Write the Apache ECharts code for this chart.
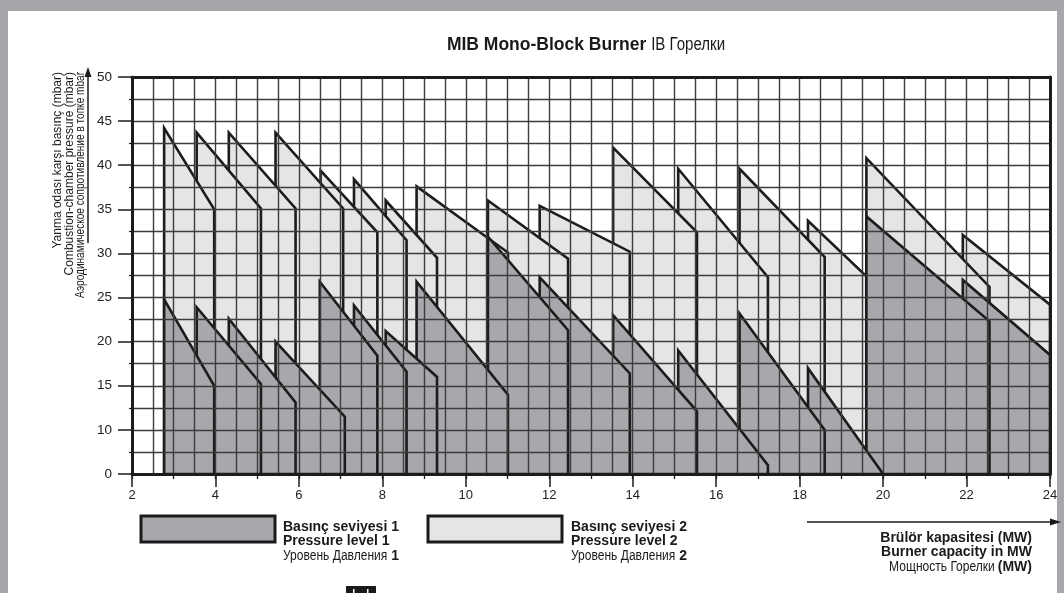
<!DOCTYPE html>
<html><head><meta charset="utf-8">
<script src="https://cdn.jsdelivr.net/npm/echarts@6.0.0/dist/echarts.min.js"></script>
<style>
html,body{margin:0;padding:0;background:#a6a7ab;width:1064px;height:593px;overflow:hidden;}
#panel{position:absolute;left:8px;top:11px;width:1049px;height:582px;background:#fff;}
#c{position:absolute;left:0;top:0;width:1064px;height:593px;}
</style>
</head><body><div id="panel"></div><div id="c"></div>
<script>
// x: burner capacity (MW); y: combustion-chamber pressure (mbar)
const xTickValues = [2, 4, 6, 8, 10, 12, 14, 16, 18, 20, 22, 24];
const yTickValues = [0, 10, 15, 20, 25, 30, 35, 40, 45, 50];
// each burner: [capacity from (MW), pressure at start (mbar), capacity to (MW), pressure at end (mbar)]
const pressureLevel2 = [
  [2.77, 44.2, 3.97, 35.0],
  [3.55, 43.7, 5.09, 35.1],
  [4.32, 43.7, 5.92, 35.1],
  [5.44, 43.7, 7.06, 35.1],
  [6.52, 39.4, 7.88, 32.4],
  [7.32, 38.4, 8.58, 31.5],
  [8.08, 36.0, 9.31, 29.5],
  [8.82, 37.6, 11.01, 30.1],
  [10.53, 36.0, 12.45, 29.4],
  [11.77, 35.4, 13.93, 30.2],
  [13.53, 42.0, 15.54, 32.4],
  [15.09, 39.6, 17.24, 27.3],
  [16.56, 39.6, 18.6, 29.6],
  [18.2, 33.7, 19.6, 27.4],
  [19.6, 40.8, 22.55, 26.2],
  [21.91, 32.1, 24.0, 24.2]
];
const pressureLevel1 = [
  [2.77, 24.8, 3.97, 15.0],
  [3.55, 23.9, 5.09, 15.2],
  [4.32, 22.6, 5.92, 13.1],
  [5.44, 20.0, 7.1, 11.5],
  [6.5, 26.8, 7.88, 18.4],
  [7.32, 24.1, 8.58, 16.6],
  [8.08, 21.2, 9.31, 16.0],
  [8.82, 26.8, 11.01, 14.0],
  [10.53, 31.9, 12.45, 21.3],
  [11.77, 27.3, 13.93, 16.4],
  [13.53, 23.0, 15.54, 12.1],
  [15.09, 19.0, 17.24, 2.0],
  [16.56, 23.2, 18.6, 10.0],
  [18.2, 17.0, 20.0, 0],
  [19.6, 34.2, 22.55, 22.3],
  [21.91, 27.0, 24.0, 18.5]
];

// the printed pressure axis is broken: 0..10 mbar occupies one 5-mbar step
function toAxis(v){ return v < 10 ? 5 + v / 2 : v; }
function fromAxis(a){ return a < 10 ? Math.round((a - 5) * 2) : a; }

const FILL1 = '#a7a8ac', FILL2 = '#e4e5e7', INK = '#1c1c1c', GRIDC = '#3c3c3c', TXT = '#1a1a1a';
const SANS = "'Liberation Sans', Arial, Helvetica, sans-serif";
const NARROW_SCALE = 0.86;

const mctx = document.createElement('canvas').getContext('2d');
function tw(font, text){ mctx.font = font; return mctx.measureText(text).width; }
function f(size, bold){ return (bold ? 'bold ' : '') + size + 'px ' + SANS; }

// a text piece; narrow pieces are drawn condensed
function piece(x, y, text, size, bold, narrow, align){
  return { type: 'text', x: x, y: y, z: 10, scaleX: narrow ? NARROW_SCALE : 1,
    style: { text: text, font: f(size, bold), fill: TXT, align: align || 'left', verticalAlign: 'middle' } };
}
function pieceWidth(text, size, bold, narrow){ return tw(f(size, bold), text) * (narrow ? NARROW_SCALE : 1); }

function polygons(name, rows, fill, z){
  return {
    type: 'custom', name: name, coordinateSystem: 'cartesian2d', xAxisIndex: 0, yAxisIndex: 0,
    data: rows.map(r => [r[0], toAxis(r[1]), r[2], toAxis(r[3])]).reverse(),
    encode: { x: [0, 2], y: [1, 3] },
    z: z, silent: true, animation: false,
    renderItem: function(params, api){
      const base = toAxis(0);
      const pts = [
        api.coord([api.value(0), base]),
        api.coord([api.value(0), api.value(1)]),
        api.coord([api.value(2), api.value(3)]),
        api.coord([api.value(2), base])
      ];
      return { type: 'polygon', shape: { points: pts },
        style: { fill: fill, stroke: INK, lineWidth: 2.6, lineJoin: 'miter' } };
    }
  };
}

const graphics = [];
// title
(function(){
  const a = 'MIB Mono-Block Burner', b = 'IB Горелки', size = 17.5;
  const wa = pieceWidth(a, size, true, false), gap = 5, wb = pieceWidth(b, size, false, true);
  const x0 = 586 - (wa + gap + wb) / 2;
  graphics.push(piece(x0, 45, a, size, true, false));
  graphics.push(piece(x0 + wa + gap, 45, b, size, false, true));
})();
// y axis title (rotated) + arrow
[[58, 'Yanma odası karşı basınç (mbar)', false], [70, 'Combustion-chamber pressure (mbar)', false],
 [81, 'Аэродинамическое сопротивление в топке mbar', true]].forEach(function(d){
  graphics.push({ type: 'text', x: d[0], y: 72, rotation: Math.PI / 2, z: 10, scaleX: d[2] ? 0.84 : 1,
    style: { text: d[1], align: 'right', verticalAlign: 'middle', font: f(12, false), fill: TXT } });
});
graphics.push({ type: 'line', z: 10, shape: { x1: 88, y1: 243, x2: 88, y2: 74 }, style: { stroke: TXT, lineWidth: 1.5 } });
graphics.push({ type: 'polygon', z: 10, shape: { points: [[88, 67], [84.5, 77], [91.5, 77]] }, style: { fill: TXT } });
// x axis title + arrow
graphics.push({ type: 'line', z: 10, shape: { x1: 807, y1: 522, x2: 1052, y2: 522 }, style: { stroke: TXT, lineWidth: 1.5 } });
graphics.push({ type: 'polygon', z: 10, shape: { points: [[1061, 522], [1050, 518.5], [1050, 525.5]] }, style: { fill: TXT } });
graphics.push(piece(1032, 538, 'Brülör kapasitesi (MW)', 14, true, false, 'right'));
graphics.push(piece(1032, 552, 'Burner capacity in MW', 14, true, false, 'right'));
(function(){
  const wb = pieceWidth('(MW)', 14, true, false);
  graphics.push(piece(1032, 567, '(MW)', 14, true, false, 'right'));
  graphics.push(piece(1032 - wb - 3, 567, 'Мощность Горелки', 14, false, true, 'right'));
})();
// legends
function legend(rx, tx, fill, n){
  graphics.push({ type: 'rect', z: 10, shape: { x: rx, y: 516, width: 134, height: 26 },
    style: { fill: fill, stroke: TXT, lineWidth: 3 } });
  graphics.push(piece(tx, 527, 'Basınç seviyesi ' + n, 14, true, false));
  graphics.push(piece(tx, 541.5, 'Pressure level ' + n, 14, true, false));
  const w = pieceWidth('Уровень Давления', 14, false, true);
  graphics.push(piece(tx, 556, 'Уровень Давления', 14, false, true));
  graphics.push(piece(tx + w + 4, 556, String(n), 14, true, false));
}
legend(141, 283, FILL1, 1);
legend(428, 571, FILL2, 2);
// small tab at the bottom edge
graphics.push({ type: 'rect', z: 10, shape: { x: 346, y: 586, width: 30, height: 8 }, style: { fill: TXT } });
graphics.push({ type: 'rect', z: 11, shape: { x: 353, y: 589, width: 1.5, height: 4 }, style: { fill: '#fff' } });
graphics.push({ type: 'rect', z: 11, shape: { x: 367, y: 589, width: 1.5, height: 4 }, style: { fill: '#fff' } });

const chart = echarts.init(document.getElementById('c'), null, { renderer: 'canvas' });
const hidden = { show: false };
chart.setOption({
  backgroundColor: 'transparent',
  animation: false,
  textStyle: { fontFamily: SANS },
  grid: { left: 132, right: 14, top: 77, bottom: 119, containLabel: false, outerBoundsMode: 'none' },
  xAxis: [
    { type: 'value', min: xTickValues[0], max: xTickValues[xTickValues.length - 1], interval: 2, z: 5,
      axisLine: { show: true, lineStyle: { color: INK, width: 3 } },
      axisTick: { show: true, length: 13, lineStyle: { color: INK, width: 1.5 } },
      axisLabel: { show: true, margin: 15, color: '#222', fontSize: 13, fontFamily: SANS,
        formatter: v => xTickValues.indexOf(v) >= 0 ? String(v) : '' },
      splitLine: { show: true, lineStyle: { color: GRIDC, width: 1.4 } },
      minorTick: { show: false, splitNumber: 4 },
      minorSplitLine: { show: true, lineStyle: { color: GRIDC, width: 1.4 } } },
    { type: 'value', position: 'bottom', min: 2, max: 24, interval: 1, z: 5,
      axisLine: hidden, axisLabel: hidden, splitLine: hidden,
      axisTick: { show: true, length: 5, lineStyle: { color: INK, width: 1.3 } } },
    { type: 'value', position: 'top', min: 2, max: 24, interval: 2, z: 6,
      axisLine: { show: true, lineStyle: { color: INK, width: 3 } },
      axisTick: hidden, axisLabel: hidden, splitLine: hidden }
  ],
  yAxis: [
    { type: 'value', min: toAxis(yTickValues[0]), max: toAxis(yTickValues[yTickValues.length - 1]), interval: 5, z: 5,
      axisLine: { show: true, lineStyle: { color: INK, width: 3 } },
      axisTick: { show: true, length: 14, lineStyle: { color: INK, width: 1.5 } },
      axisLabel: { show: true, margin: 20, color: '#222', fontSize: 13.5, fontFamily: SANS,
        formatter: v => { const t = fromAxis(v); return yTickValues.indexOf(t) >= 0 ? String(t) : ''; } },
      splitLine: { show: true, lineStyle: { color: GRIDC, width: 1.4 } },
      minorTick: { show: true, splitNumber: 2, length: 3, lineStyle: { color: INK, width: 1.2 } },
      minorSplitLine: { show: true, lineStyle: { color: GRIDC, width: 1.4 } } },
    { type: 'value', position: 'right', min: 5, max: 50, interval: 5, z: 6,
      axisLine: { show: true, lineStyle: { color: INK, width: 3 } },
      axisTick: hidden, axisLabel: hidden, splitLine: hidden }
  ],
  series: [
    polygons('Pressure level 2', pressureLevel2, FILL2, 1),
    polygons('Pressure level 1', pressureLevel1, FILL1, 2)
  ],
  graphic: graphics
});
</script>
</body></html>
